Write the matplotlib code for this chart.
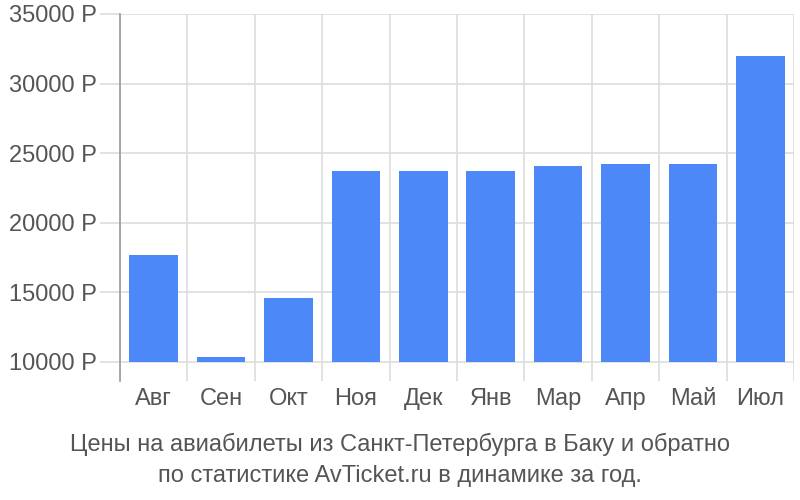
import numpy as np
import matplotlib.pyplot as plt

months = ["Авг", "Сен", "Окт", "Ноя", "Дек", "Янв", "Мар", "Апр", "Май", "Июл"]
prices = [17700, 10350, 14600, 23750, 23750, 23750, 24100, 24250, 24250, 32000]
yticks = [10000, 15000, 20000, 25000, 30000, 35000]
title = ("Цены на авиабилеты из Санкт-Петербурга в Баку и обратно\n"
         "по статистике AvTicket.ru в динамике за год.")

plt.rcParams['font.family'] = ['Liberation Sans', 'DejaVu Sans']

fig = plt.figure(figsize=(8, 5), dpi=100)
ax = fig.add_axes([0.15, 0.238, 0.8425, 0.734])

x = np.arange(len(months))
base = 10000
ax.bar(x, np.array(prices) - base, bottom=base, width=0.72,
       color="#4d88f9", zorder=3)

ax.set_xlim(-0.5, len(months) - 0.5)
ax.set_ylim(8630, 35000)

ax.set_yticks(yticks)
ax.set_yticklabels([f"{v} Р" for v in yticks])
ax.set_xticks(x)
ax.set_xticklabels(months)
ax.set_xticks(np.arange(len(months) + 1) - 0.5, minor=True)

ax.tick_params(axis='y', length=14.5, width=1.2, color="#dddddd",
               labelsize=17, labelcolor="#555555", pad=2)
ax.tick_params(axis='x', which='major', length=0, labelsize=17,
               labelcolor="#555555", pad=5)
ax.tick_params(axis='x', which='minor', length=0)

ax.grid(axis='y', which='major', color="#dddddd", linewidth=1.2, zorder=0)
ax.grid(axis='x', which='minor', color="#dddddd", linewidth=1.2, zorder=0)

for side in ["top", "right", "bottom"]:
    ax.spines[side].set_visible(False)
ax.spines["left"].set_color("#999999")
ax.spines["left"].set_linewidth(1.2)

fig.text(0.5, 0.08, title, ha='center', va='center', fontsize=17,
         color="#555555", linespacing=1.5)

fig.savefig("out.png", dpi=100)
